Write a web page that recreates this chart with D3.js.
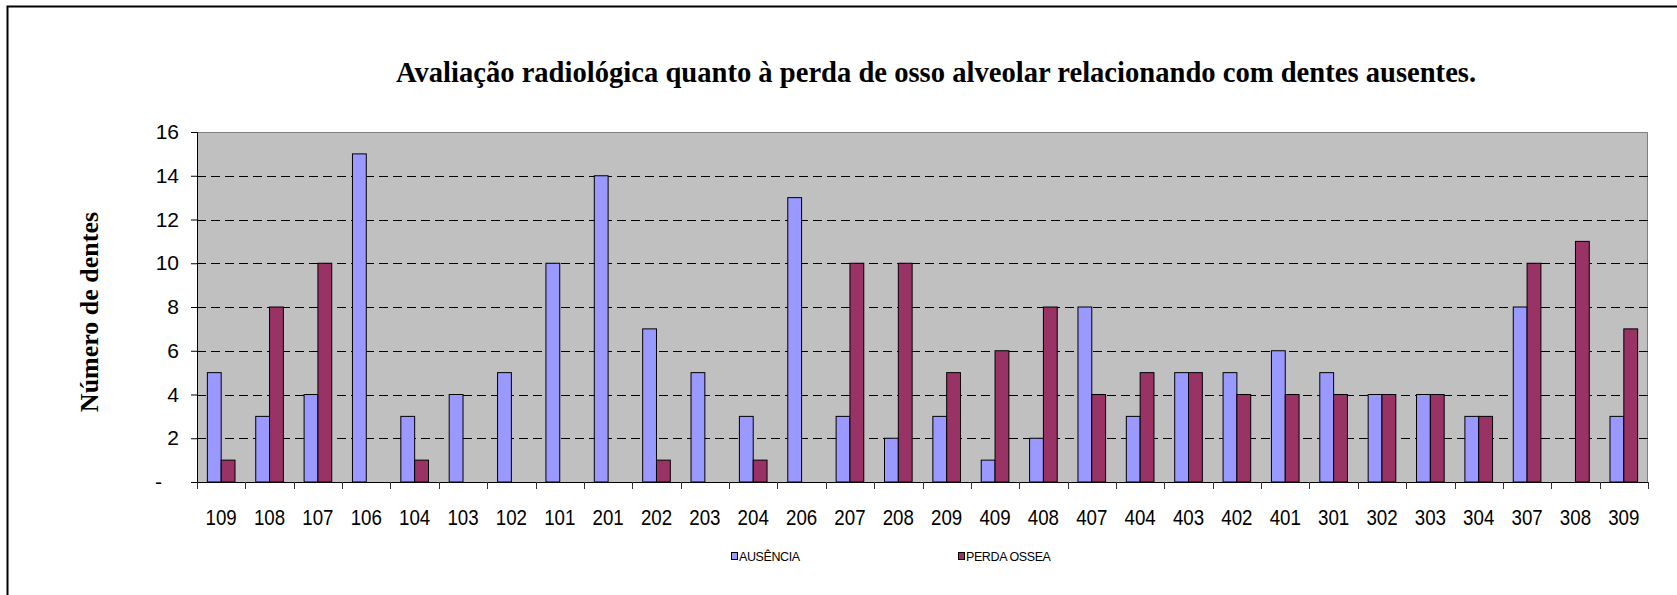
<!DOCTYPE html>
<html>
<head>
<meta charset="utf-8">
<script src="https://cdn.jsdelivr.net/npm/d3@7"></script>
<style>
  html, body { margin: 0; padding: 0; background: #fff; }
  svg { display: block; }
</style>
</head>
<body>
<svg id="chart" width="1677" height="595"></svg>
<script>
const categories = ["109","108","107","106","104","103","102","101","201","202","203","204","206","207","208","209","409","408","407","404","403","402","401","301","302","303","304","307","308","309"];
const ausencia    = [5,3,4,15,3,4,5,10,14,7,5,3,13,3,2,3,1,2,8,3,5,5,6,5,4,4,3,8,0,3];
const perdaOssea  = [1,8,10,0,1,0,0,0,0,1,0,1,0,10,10,5,6,8,4,5,5,4,4,4,4,4,3,10,11,7];
const seriesNames = ["AUSÊNCIA","PERDA OSSEA"];
const seriesColors = ["#9999FF","#993366"];
const yTicks = [0,2,4,6,8,10,12,14,16];
const title = "Avaliação radiológica quanto à perda de osso alveolar relacionando com dentes ausentes.";
const yTitle = "Número de dentes";

const svg = d3.select("#chart");

// outer frame
svg.append("rect").attr("x", 7.5).attr("y", 6.5).attr("width", 1720).attr("height", 700)
  .attr("fill", "none").attr("stroke", "#000").attr("stroke-width", 2);

const pL = 197, pR = 1648, pT = 132, pB = 482;

const x0 = d3.scaleBand().domain(categories).range([pL, pR]).padding(0);
const bw = x0.bandwidth();
const x1 = d3.scaleBand().domain(seriesNames).range([bw * 0.75 / 3.5, bw * 2.75 / 3.5]).padding(0);
const y = d3.scaleLinear().domain([0, 16]).range([pB, pT]);

// plot background
svg.append("rect").attr("x", pL).attr("y", pT).attr("width", pR - pL).attr("height", pB - pT)
  .attr("fill", "#C0C0C0");
// plot border (top/right gray)
svg.append("path").attr("d", `M${pL},${pT + 0.5}H${pR - 0.5}V${pB}`).attr("fill", "none")
  .attr("stroke", "#808080").attr("stroke-width", 1);

// gridlines
svg.append("g").selectAll("line").data(yTicks.filter(d => d > 0 && d < 16)).join("line")
  .attr("x1", pL).attr("x2", pR)
  .attr("y1", d => Math.round(y(d)) + 0.5).attr("y2", d => Math.round(y(d)) + 0.5)
  .attr("stroke", "#000").attr("stroke-width", 1).attr("stroke-dasharray", "9,5");

// bars
const data = categories.map((c, i) => ({ cat: c, vals: [ausencia[i], perdaOssea[i]] }));
const groups = svg.append("g").selectAll("g").data(data).join("g")
  .attr("transform", d => `translate(${x0(d.cat)},0)`);
groups.selectAll("rect").data(d => d.vals.map((v, j) => ({ key: seriesNames[j], v, j })).filter(e => e.v > 0))
  .join("rect")
  .attr("x", e => x1(e.key))
  .attr("y", e => y(e.v))
  .attr("width", x1.bandwidth())
  .attr("height", e => y(0) - y(e.v))
  .attr("fill", e => seriesColors[e.j])
  .attr("stroke", "#000").attr("stroke-width", 1);

// y axis
const yAxis = d3.axisLeft(y).tickValues(yTicks).tickSize(6).tickPadding(12)
  .tickFormat(d => d === 0 ? "-" : d3.format("d")(d));
const gy = svg.append("g").attr("transform", `translate(${pL},0)`).call(yAxis);
gy.select(".domain").attr("stroke", "#000");
gy.selectAll(".tick line").attr("stroke", "#000");
gy.selectAll(".tick text").attr("font-family", "Liberation Sans, Arial, sans-serif")
  .attr("font-size", 21).attr("fill", "#000");
gy.selectAll(".tick text").filter(d => d === 0).attr("dx", -17);

// x axis
const xAxis = d3.axisBottom(x0).tickSize(0).tickPadding(0);
const gx = svg.append("g").attr("transform", `translate(0,${pB})`).call(xAxis);
gx.select(".domain").remove();
gx.selectAll(".tick text").remove();
svg.append("line").attr("x1", pL).attr("x2", pR).attr("y1", pB + 0.5).attr("y2", pB + 0.5)
  .attr("stroke", "#000");
// tick marks at band boundaries
const bounds = categories.map(c => x0(c)).concat([pR]);
svg.append("g").selectAll("line").data(bounds).join("line")
  .attr("x1", d => Math.round(d) + 0.5).attr("x2", d => Math.round(d) + 0.5)
  .attr("y1", pB).attr("y2", pB + 7)
  .attr("stroke", "#333");
// category labels
svg.append("g").selectAll("text").data(categories).join("text")
  .attr("transform", d => `translate(${x0(d) + bw / 2},525) scale(0.85,1)`)
  .attr("text-anchor", "middle")
  .attr("font-family", "Liberation Sans, Arial, sans-serif")
  .attr("font-size", 22)
  .attr("fill", "#000")
  .text(d => d);

// title
svg.append("text").attr("x", 936).attr("y", 82).attr("text-anchor", "middle")
  .attr("font-family", "Liberation Serif, Times New Roman, serif").attr("font-weight", "bold")
  .attr("font-size", 28.6).attr("fill", "#000").text(title);

// y title
svg.append("text").attr("transform", "translate(98,312) rotate(-90)").attr("text-anchor", "middle")
  .attr("font-family", "Liberation Serif, Times New Roman, serif").attr("font-weight", "bold")
  .attr("font-size", 26).attr("fill", "#000").text(yTitle);

// legend
const legendX = [731, 958];
const lg = svg.append("g").selectAll("g").data(seriesNames).join("g")
  .attr("transform", (d, i) => `translate(${legendX[i]},552)`);
lg.append("rect").attr("x", 0.5).attr("y", 0.5).attr("width", 6).attr("height", 7)
  .attr("fill", (d, i) => seriesColors[i]).attr("stroke", "#000").attr("stroke-width", 1);
lg.append("text").attr("x", 8).attr("y", 8.5)
  .attr("font-family", "Liberation Sans, Arial, sans-serif").attr("font-size", 12.5)
  .attr("letter-spacing", -0.4).attr("fill", "#000").text(d => d);
</script>
</body>
</html>
